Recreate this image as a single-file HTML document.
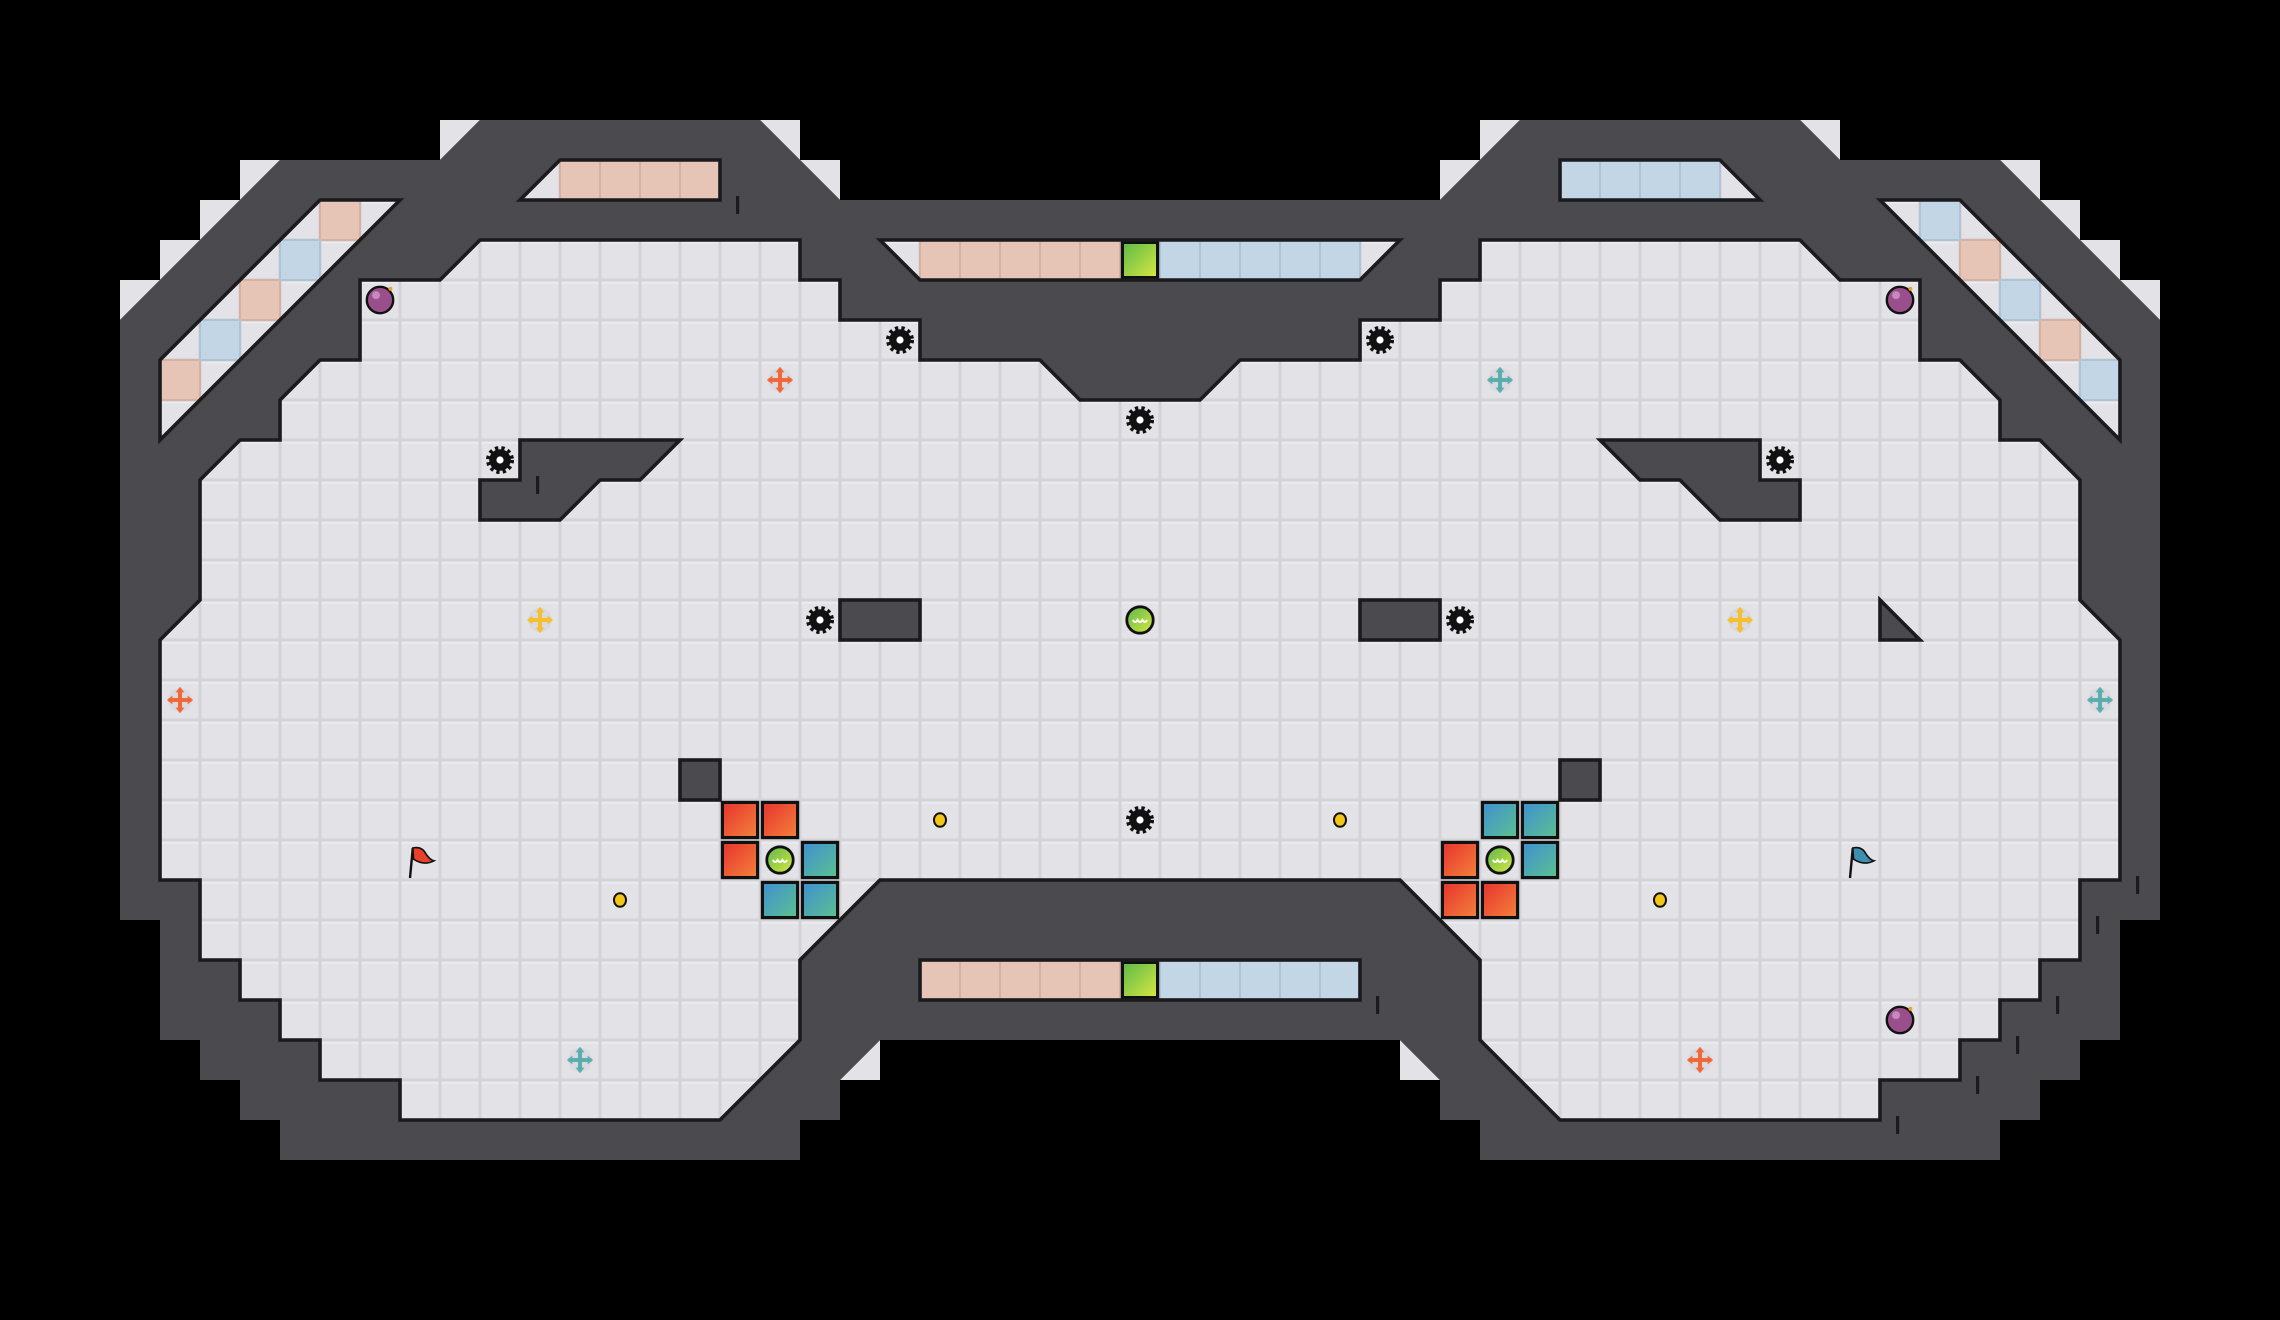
<!DOCTYPE html>
<html><head><meta charset="utf-8"><style>html,body{margin:0;padding:0;background:#000;}svg{display:block;}</style></head>
<body>
<svg width="2280" height="1320" viewBox="0 0 57 33" xmlns="http://www.w3.org/2000/svg">
<defs>
<pattern id="t" width="1" height="1" patternUnits="userSpaceOnUse">
<rect width="1" height="1" fill="#d3d3d8"/><rect x="0.04" y="0.04" width="0.92" height="0.92" fill="#e3e3e7"/><rect x="0.04" y="0.04" width="0.92" height="0.05" fill="#ececef"/>
</pattern>
<linearGradient id="gr" x1="0" y1="0" x2="1" y2="1"><stop offset="0" stop-color="#e8322e"/><stop offset="1" stop-color="#f2823a"/></linearGradient>
<linearGradient id="gb" x1="0" y1="0" x2="1" y2="1"><stop offset="0" stop-color="#3f8fd2"/><stop offset="1" stop-color="#5cc08e"/></linearGradient>
<linearGradient id="gg" x1="0" y1="0" x2="1" y2="1"><stop offset="0" stop-color="#5cb84a"/><stop offset="1" stop-color="#d8e840"/></linearGradient>
<g id="saw"><circle r="0.27" fill="#111"/><circle r="0.3" fill="none" stroke="#111" stroke-width="0.1" stroke-dasharray="0.08 0.08"/><circle r="0.09" fill="#fff"/></g>
<g id="boost"><circle r="0.3" fill="#d6d6da" opacity="0.7"/><g fill="currentColor"><rect x="-0.22" y="-0.05" width="0.44" height="0.1"/><rect x="-0.05" y="-0.22" width="0.1" height="0.44"/><path d="M0,-0.33 L-0.11,-0.19 L0.11,-0.19Z M0,0.33 L-0.11,0.19 L0.11,0.19Z M-0.33,0 L-0.19,-0.11 L-0.19,0.11Z M0.33,0 L0.19,-0.11 L0.19,0.11Z"/></g></g>
<g id="ball"><circle r="0.33" fill="url(#gg)" stroke="#111" stroke-width="0.07"/><path d="M-0.18,0 q0.06,0.1 0.12,0 q0.06,0.1 0.12,0 q0.06,0.1 0.12,0" fill="none" stroke="#fff" stroke-width="0.05"/></g>
<g id="bomb"><circle r="0.33" fill="#9a4e8c" stroke="#111" stroke-width="0.06"/><circle cx="-0.1" cy="-0.12" r="0.1" fill="#d9a3cf" opacity="0.7"/><circle cx="0.26" cy="-0.28" r="0.05" fill="#f0a030"/></g>
<g id="dot"><ellipse rx="0.15" ry="0.17" fill="#f5c518" stroke="#111" stroke-width="0.05"/></g>
</defs>

<rect width="57" height="33" fill="#000"/>

<!-- outer light triangles -->
<g fill="#e3e3e7">
<path d="M11,3H12L11,4Z M6,4H7L6,5Z M5,5H6L5,6Z M4,6H5L4,7Z M3,7H4L3,8Z M19,3H20V4Z M20,4H21V5Z M22,26V27H21Z"/>
<path d="M46,3H45L46,4Z M51,4H50L51,5Z M52,5H51L52,6Z M53,6H52L53,7Z M54,7H53L54,8Z M38,3H37V4Z M37,4H36V5Z M35,26V27H36Z"/>
</g>

<!-- outer wall -->
<polygon fill="#4b4a4f" points="21,5 19,3 12,3 11,4 7,4 3,8 3,23 4,23 4,26 5,26 5,27 6,27 6,28 7,28 7,29 20,29 20,28 21,28 21,27 22,26 35,26 36,27 36,28 37,28 37,29 50,29 50,28 51,28 51,27 52,27 52,26 53,26 53,23 54,23 54,8 50,4 46,4 45,3 38,3 36,5"/>

<!-- main floor -->
<polygon fill="url(#t)" stroke="#1b1b1e" stroke-width="0.09" stroke-linejoin="miter" points="30,10 27,10 26,9 23,9 23,8 21,8 21,7 20,7 20,6 12,6 11,7 9,7 9,9 8,9 7,10 7,11 6,11 5,12 5,15 4,16 4,22 5,22 5,24 6,24 6,25 7,25 7,26 8,26 8,27 10,27 10,28 18,28 20,26 20,24 22,22 35,22 37,24 37,26 39,28 47,28 47,27 49,27 49,26 50,26 50,25 51,25 51,24 52,24 52,22 53,22 53,16 52,15 52,12 51,11 50,11 50,10 49,9 48,9 48,7 46,7 45,6 37,6 37,7 36,7 36,8 34,8 34,9 31,9"/>

<!-- channels -->
<g fill="url(#t)">
<polygon points="8,5 10,5 4,11 4,9"/><polygon points="49,5 47,5 53,11 53,9"/>
<polygon points="14,4 18,4 18,5 13,5"/><polygon points="43,4 39,4 39,5 44,5"/>
<polygon points="22,6 35,6 34,7 23,7"/><rect x="23" y="24" width="11" height="1"/>
</g>
<!-- colored tiles -->
<g fill="#e6c4b6" stroke="#d6b2a4" stroke-width="0.05">
<rect x="8" y="5" width="1" height="1"/><rect x="6" y="7" width="1" height="1"/><rect x="4" y="9" width="1" height="1"/>
<rect x="49" y="6" width="1" height="1"/><rect x="51" y="8" width="1" height="1"/>
<rect x="14" y="4" width="1" height="1"/><rect x="15" y="4" width="1" height="1"/><rect x="16" y="4" width="1" height="1"/><rect x="17" y="4" width="1" height="1"/>
<rect x="23" y="6" width="1" height="1"/><rect x="24" y="6" width="1" height="1"/><rect x="25" y="6" width="1" height="1"/><rect x="26" y="6" width="1" height="1"/><rect x="27" y="6" width="1" height="1"/>
<rect x="23" y="24" width="1" height="1"/><rect x="24" y="24" width="1" height="1"/><rect x="25" y="24" width="1" height="1"/><rect x="26" y="24" width="1" height="1"/><rect x="27" y="24" width="1" height="1"/>
</g>
<g fill="#c2d6e5" stroke="#afc5d6" stroke-width="0.05">
<rect x="7" y="6" width="1" height="1"/><rect x="5" y="8" width="1" height="1"/>
<rect x="48" y="5" width="1" height="1"/><rect x="50" y="7" width="1" height="1"/><rect x="52" y="9" width="1" height="1"/>
<rect x="39" y="4" width="1" height="1"/><rect x="40" y="4" width="1" height="1"/><rect x="41" y="4" width="1" height="1"/><rect x="42" y="4" width="1" height="1"/>
<rect x="29" y="6" width="1" height="1"/><rect x="30" y="6" width="1" height="1"/><rect x="31" y="6" width="1" height="1"/><rect x="32" y="6" width="1" height="1"/><rect x="33" y="6" width="1" height="1"/>
<rect x="29" y="24" width="1" height="1"/><rect x="30" y="24" width="1" height="1"/><rect x="31" y="24" width="1" height="1"/><rect x="32" y="24" width="1" height="1"/><rect x="33" y="24" width="1" height="1"/>
</g>
<g fill="url(#gg)" stroke="#111" stroke-width="0.08">
<rect x="28.06" y="6.06" width="0.88" height="0.88"/><rect x="28.06" y="24.06" width="0.88" height="0.88"/>
</g>
<g fill="none" stroke="#1b1b1e" stroke-width="0.09">
<polygon points="8,5 10,5 4,11 4,9"/><polygon points="49,5 47,5 53,11 53,9"/>
<polygon points="14,4 18,4 18,5 13,5"/><polygon points="43,4 39,4 39,5 44,5"/>
<polygon points="22,6 35,6 34,7 23,7"/><rect x="23" y="24" width="11" height="1"/>
</g>

<!-- inner walls -->
<g fill="#4b4a4f" stroke="#1b1b1e" stroke-width="0.09">
<polygon points="13,11 17,11 16,12 15,12 14,13 12,13 12,12 13,12"/>
<polygon points="44,11 40,11 41,12 42,12 43,13 45,13 45,12 44,12"/>
<rect x="21" y="15" width="2" height="1"/><rect x="34" y="15" width="2" height="1"/>
<rect x="17" y="19" width="1" height="1"/><rect x="39" y="19" width="1" height="1"/>
<polygon points="47,15 47,16 48,16"/>
</g>
<!-- small wall marks -->
<g fill="#1b1b1e">
<rect x="18.4" y="4.9" width="0.08" height="0.45"/><rect x="13.4" y="11.9" width="0.08" height="0.45"/>
<rect x="34.4" y="24.9" width="0.08" height="0.45"/><rect x="53.4" y="21.9" width="0.08" height="0.45"/>
<rect x="52.4" y="22.9" width="0.08" height="0.45"/><rect x="51.4" y="24.9" width="0.08" height="0.45"/>
<rect x="50.4" y="25.9" width="0.08" height="0.45"/><rect x="49.4" y="26.9" width="0.08" height="0.45"/><rect x="47.4" y="27.9" width="0.08" height="0.45"/>
</g>

<!-- gates -->
<g stroke="#111" stroke-width="0.08">
<rect x="18.06" y="20.06" width="0.88" height="0.88" fill="url(#gr)"/><rect x="19.06" y="20.06" width="0.88" height="0.88" fill="url(#gr)"/><rect x="18.06" y="21.06" width="0.88" height="0.88" fill="url(#gr)"/>
<rect x="20.06" y="21.06" width="0.88" height="0.88" fill="url(#gb)"/><rect x="19.06" y="22.06" width="0.88" height="0.88" fill="url(#gb)"/><rect x="20.06" y="22.06" width="0.88" height="0.88" fill="url(#gb)"/>
<rect x="37.06" y="20.06" width="0.88" height="0.88" fill="url(#gb)"/><rect x="38.06" y="20.06" width="0.88" height="0.88" fill="url(#gb)"/><rect x="38.06" y="21.06" width="0.88" height="0.88" fill="url(#gb)"/>
<rect x="36.06" y="21.06" width="0.88" height="0.88" fill="url(#gr)"/><rect x="36.06" y="22.06" width="0.88" height="0.88" fill="url(#gr)"/><rect x="37.06" y="22.06" width="0.88" height="0.88" fill="url(#gr)"/>
</g>

<!-- items -->
<use href="#saw" x="12.5" y="11.5"/><use href="#saw" x="22.5" y="8.5"/><use href="#saw" x="28.5" y="10.5"/><use href="#saw" x="34.5" y="8.5"/>
<use href="#saw" x="20.5" y="15.5"/><use href="#saw" x="36.5" y="15.5"/><use href="#saw" x="44.5" y="11.5"/><use href="#saw" x="28.5" y="20.5"/>
<use href="#ball" x="28.5" y="15.5"/><use href="#ball" x="19.5" y="21.5"/><use href="#ball" x="37.5" y="21.5"/>
<use href="#bomb" x="9.5" y="7.5"/><use href="#bomb" x="47.5" y="7.5"/><use href="#bomb" x="47.5" y="25.5"/>
<use href="#dot" x="15.5" y="22.5"/><use href="#dot" x="23.5" y="20.5"/><use href="#dot" x="33.5" y="20.5"/><use href="#dot" x="41.5" y="22.5"/>
<use href="#boost" x="19.5" y="9.5" color="#f2683a"/><use href="#boost" x="4.5" y="17.5" color="#f2683a"/><use href="#boost" x="42.5" y="26.5" color="#f2683a"/>
<use href="#boost" x="14.5" y="26.5" color="#5aaeb0"/><use href="#boost" x="37.5" y="9.5" color="#5aaeb0"/><use href="#boost" x="52.5" y="17.5" color="#5aaeb0"/>
<use href="#boost" x="13.5" y="15.5" color="#f5c030"/><use href="#boost" x="43.5" y="15.5" color="#f5c030"/>

<!-- flags -->
<g transform="translate(10.5,21.5)"><line x1="-0.25" y1="0.45" x2="-0.18" y2="-0.3" stroke="#111" stroke-width="0.06"/><path d="M-0.18,-0.3 Q0.05,-0.35 0.15,-0.15 Q0.25,0 0.35,0.02 Q0.1,0.15 -0.16,-0.02Z" fill="#e8402a" stroke="#111" stroke-width="0.04"/></g>
<g transform="translate(46.5,21.5)"><line x1="-0.25" y1="0.45" x2="-0.18" y2="-0.3" stroke="#111" stroke-width="0.06"/><path d="M-0.18,-0.3 Q0.05,-0.35 0.15,-0.15 Q0.25,0 0.35,0.02 Q0.1,0.15 -0.16,-0.02Z" fill="#3d8fb0" stroke="#111" stroke-width="0.04"/></g>
</svg>
</body></html>
